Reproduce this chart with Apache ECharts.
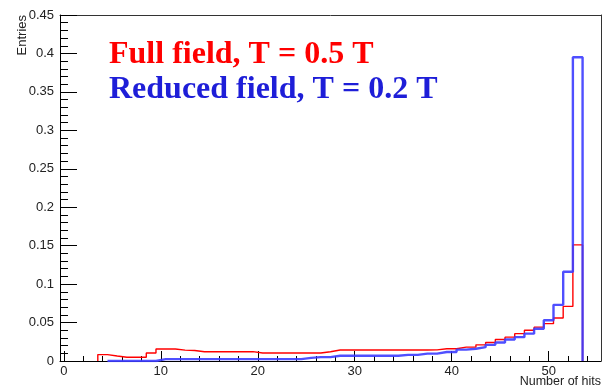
<!DOCTYPE html>
<html>
<head>
<meta charset="utf-8">
<script src="https://cdn.jsdelivr.net/npm/echarts@6/dist/echarts.min.js"></script>
<style>
html,body{margin:0;padding:0;background:#fff;}
#chart{width:603px;height:391px;}
</style>
</head>
<body>
<div id="chart"></div>
<script>
// ---- data ----
var redFirstBin = 4;
var redValues = [
  0.0083, 0.0065, 0.0048, 0.0048, 0.0048, 0.0104, 0.0156, 0.0156, 0.0141, 0.0136,
  0.0120, 0.0120, 0.0120, 0.0120, 0.0120, 0.0122,
  0.0104, 0.0104, 0.0104, 0.0104, 0.0104, 0.0104, 0.0104,
  0.0120,
  0.0143, 0.0143, 0.0143, 0.0143, 0.0143, 0.0143, 0.0143, 0.0143, 0.0143, 0.0143, 0.0145,
  0.0160, 0.0160, 0.0180, 0.0180, 0.0210, 0.0240, 0.0280, 0.0310, 0.0356, 0.0400,
  0.0440, 0.0486, 0.0560, 0.0710, 0.1510
];
var blueFirstBin = 5;
var blueValues = [
  0, 0, 0, 0, 0,
  0.0025, 0.0025, 0.0025, 0.0025, 0.0025, 0.0025, 0.0025, 0.0025, 0.0025, 0.0025,
  0.0025, 0.0025, 0.0025, 0.0025, 0.0025,
  0.0040, 0.0050, 0.0050,
  0.0068, 0.0068, 0.0068, 0.0068, 0.0068, 0.0068, 0.0068,
  0.0080, 0.0080, 0.0096, 0.0096, 0.0117, 0.0117, 0.0148, 0.0160, 0.0180, 0.0210,
  0.0240, 0.0280, 0.0310, 0.0356, 0.0420, 0.0530, 0.0730, 0.1160, 0.3950
];
var binWidth = 1;
var xMajorTicks = [0, 10, 20, 30, 40, 50];
var xMinorTicks = [2, 4, 6, 8, 12, 14, 16, 18, 22, 24, 26, 28, 32, 34, 36, 38, 42, 44, 46, 48, 52, 54];
var yMax = 0.45;
var yStep = 0.05;
var redLabel = 'Full field, T = 0.5 T';
var blueLabel = 'Reduced field, T = 0.2 T';
var xTitle = 'Number of hits';
var yTitle = 'Entries';

// build step outline from bin values
function stepPoints(first, vals) {
  var pts = [[first - binWidth / 2, 0]];
  for (var i = 0; i < vals.length; i++) {
    var c = first + i;
    pts.push([c - binWidth / 2, vals[i]]);
    pts.push([c + binWidth / 2, vals[i]]);
  }
  pts.push([first + vals.length - binWidth / 2, 0]);
  return pts;
}

var chart = echarts.init(document.getElementById('chart'), null, {renderer: 'canvas'});
var XMIN = -0.4, XMAX = 55.4;
var axisFont = 'Liberation Sans';
var option = {
  animation: false,
  backgroundColor: '#fff',
  grid: {left: 60, right: 2, top: 15, bottom: 30, containLabel: false},
  xAxis: [
    {
      type: 'value', min: XMIN, max: XMAX, position: 'bottom',
      axisLine: {show: true, onZero: false, lineStyle: {color: '#000', width: 1}},
      axisTick: {show: true, inside: true, length: 10, customValues: xMajorTicks, lineStyle: {color: '#000'}},
      axisLabel: {customValues: xMajorTicks, color: '#222', fontSize: 13, fontFamily: axisFont, margin: 4},
      splitLine: {show: false}
    },
    {
      type: 'value', min: XMIN, max: XMAX, position: 'bottom',
      axisLine: {show: false},
      axisTick: {show: true, inside: true, length: 5, customValues: xMinorTicks, lineStyle: {color: '#000'}},
      axisLabel: {show: false},
      splitLine: {show: false}
    },
    {
      type: 'value', min: XMIN, max: XMAX, position: 'top',
      axisLine: {show: true, onZero: false, lineStyle: {color: '#333'}},
      axisTick: {show: false}, axisLabel: {show: false}, splitLine: {show: false}
    }
  ],
  yAxis: [
    {
      type: 'value', min: 0, max: yMax, interval: yStep, position: 'left',
      axisLine: {show: true, onZero: false, lineStyle: {color: '#000', width: 1}},
      axisTick: {show: true, inside: true, length: 17, lineStyle: {color: '#000'}},
      minorTick: {show: true, splitNumber: 5, length: 8, lineStyle: {color: '#000'}},
      axisLabel: {color: '#222', fontSize: 13, fontFamily: axisFont, margin: 6,
        formatter: function (v) { return v === 0 ? '0' : String(+v.toFixed(2)); }},
      splitLine: {show: false}
    },
    {
      type: 'value', min: 0, max: yMax, position: 'right',
      axisLine: {show: true, onZero: false, lineStyle: {color: '#333'}},
      axisTick: {show: false}, axisLabel: {show: false}, splitLine: {show: false}
    }
  ],
  series: [
    {
      type: 'line', xAxisIndex: 0, yAxisIndex: 0, data: stepPoints(redFirstBin, redValues),
      showSymbol: false, symbol: 'none', silent: true,
      lineStyle: {color: '#ff0000', width: 1.4}, z: 3
    },
    {
      type: 'line', xAxisIndex: 0, yAxisIndex: 0, data: stepPoints(blueFirstBin, blueValues),
      showSymbol: false, symbol: 'none', silent: true,
      lineStyle: {color: '#3c3cff', width: 2.4, opacity: 0.9}, z: 4
    }
  ],
  graphic: [
    {type: 'text', x: 109, y: 55, z: 10,
      style: {text: redLabel, fill: '#ff0000', font: 'bold 32px "Liberation Serif"', align: 'left', verticalAlign: 'middle'}},
    {type: 'text', x: 109, y: 90, z: 10,
      style: {text: blueLabel, fill: '#1e1ed8', font: 'bold 32px "Liberation Serif"', align: 'left', verticalAlign: 'middle'}},
    {type: 'text', x: 601, y: 382, z: 10,
      style: {text: xTitle, fill: '#222', font: '12.5px "Liberation Sans"', align: 'right', verticalAlign: 'middle'}},
    {type: 'text', x: 22, y: 15, rotation: Math.PI / 2, z: 10,
      style: {text: yTitle, fill: '#222', font: '13px "Liberation Sans"', align: 'right', verticalAlign: 'middle'}}
  ]
};
chart.setOption(option);
</script>
</body>
</html>
